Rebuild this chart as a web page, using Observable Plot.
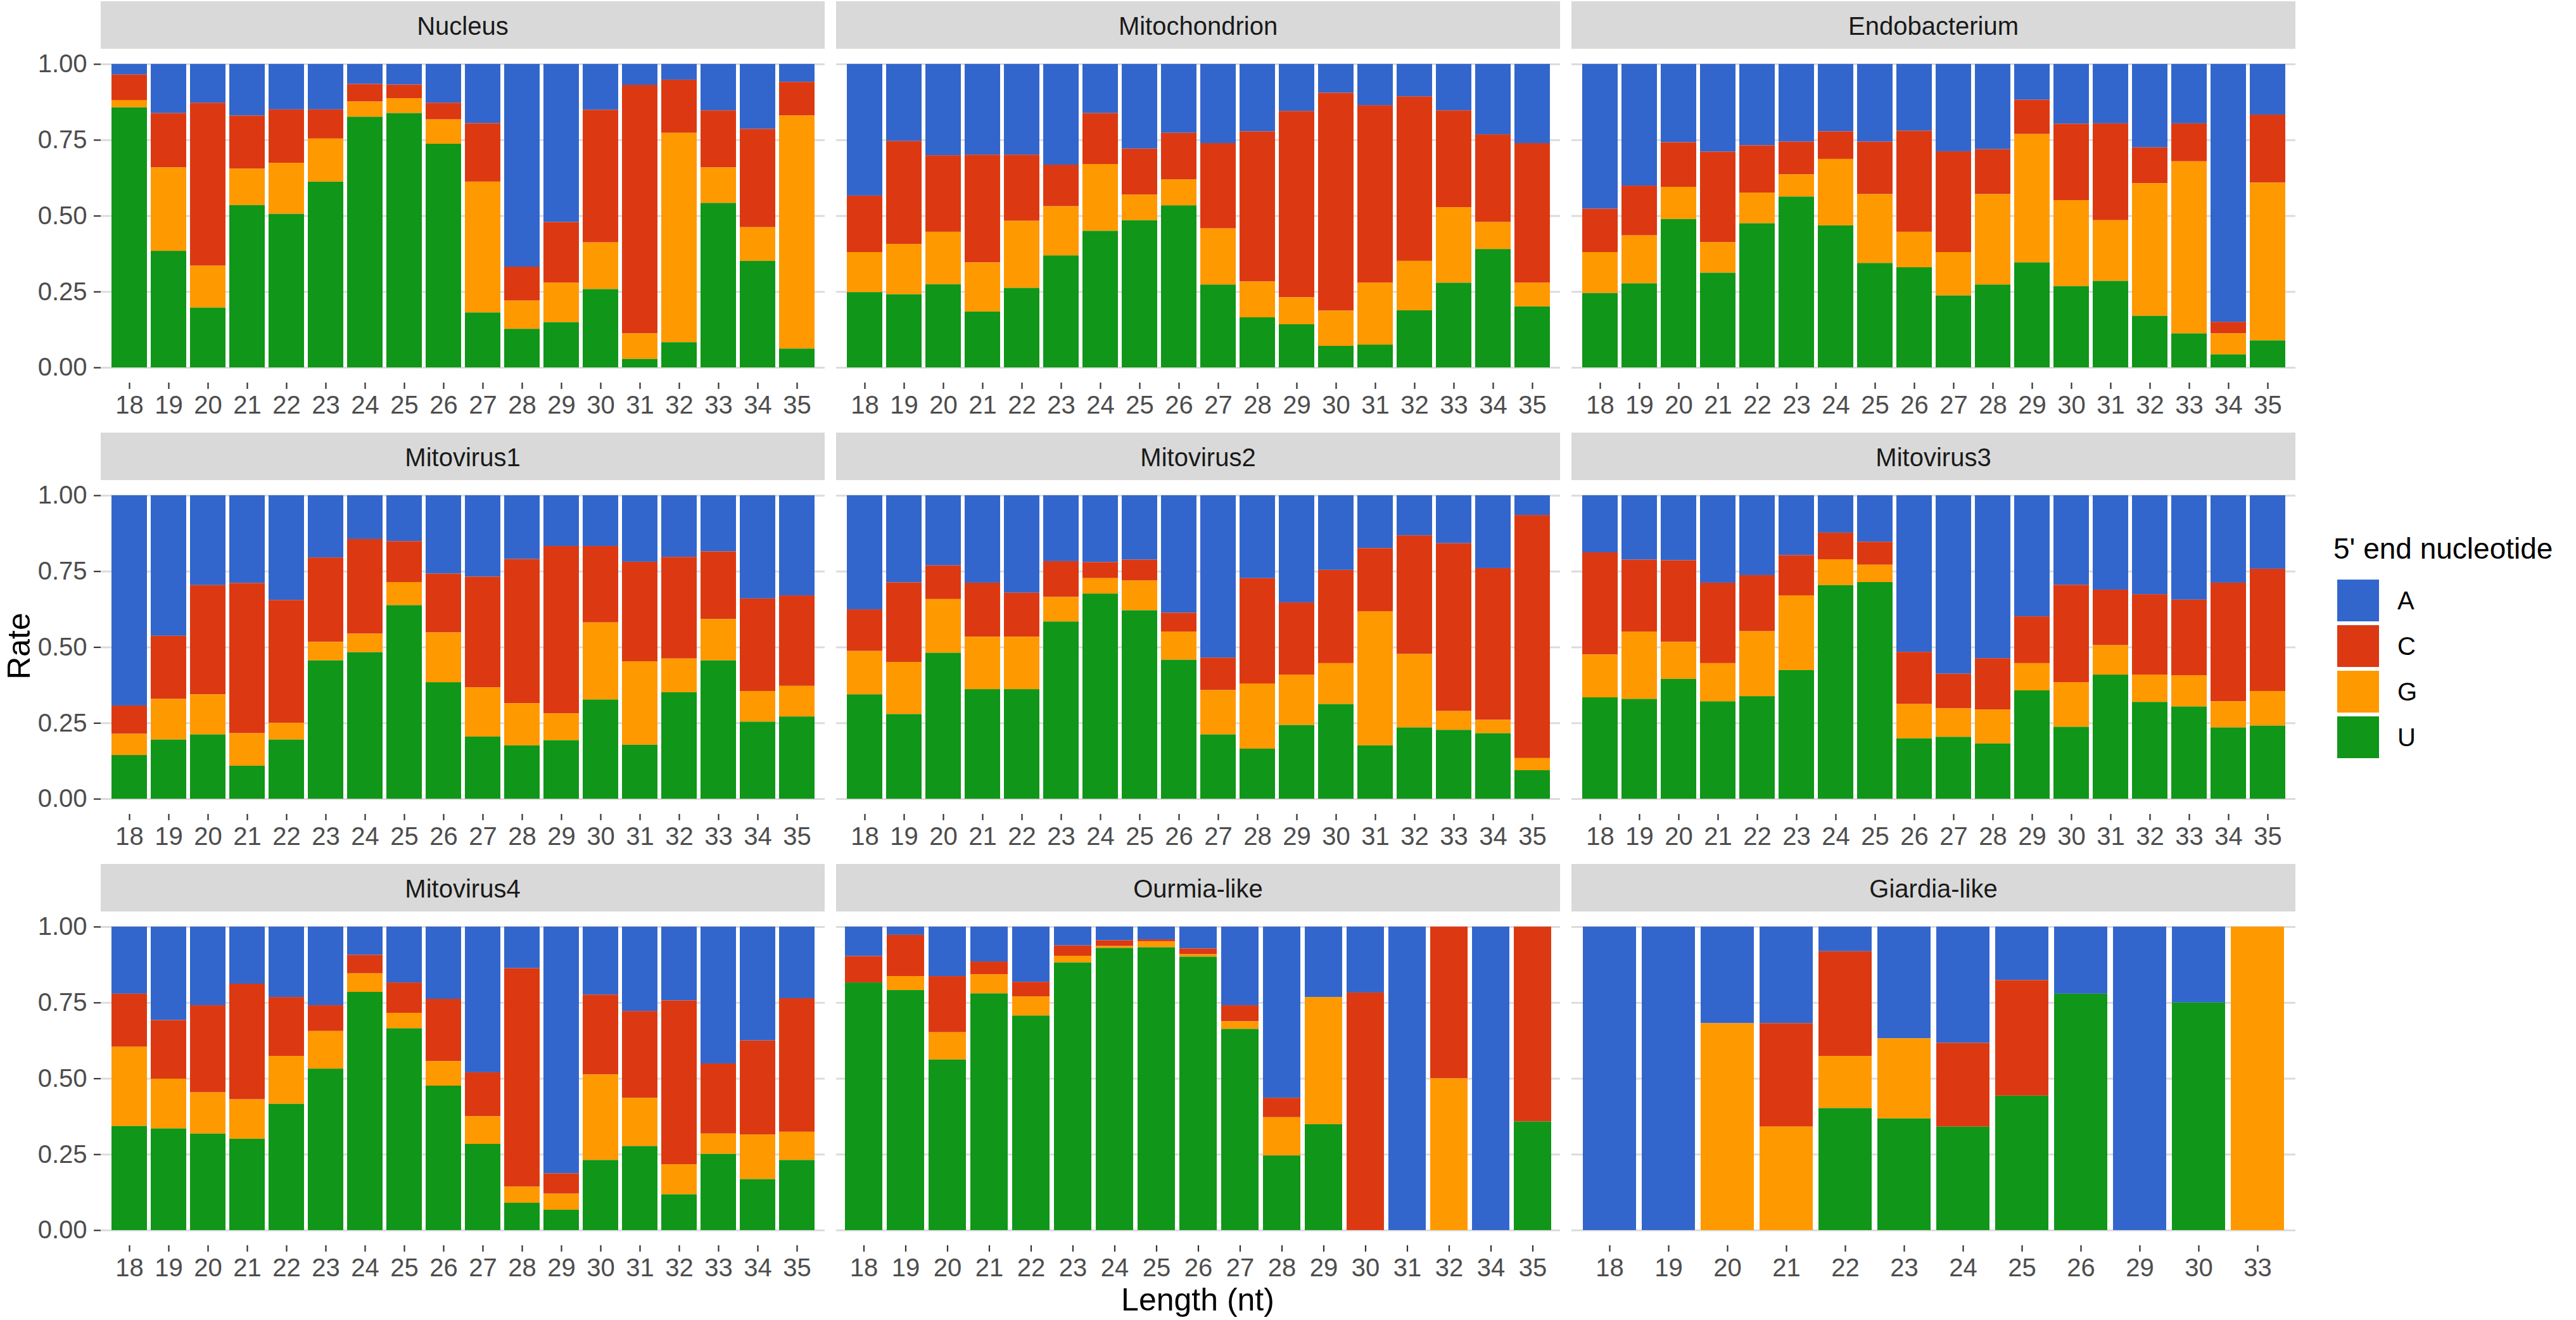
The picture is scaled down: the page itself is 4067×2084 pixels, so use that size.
<!DOCTYPE html>
<html><head><meta charset="utf-8">
<script src="https://cdn.jsdelivr.net/npm/d3@7"></script>
<script src="https://cdn.jsdelivr.net/npm/@observablehq/plot@0.6"></script>
<style>
html,body{margin:0;padding:0;background:#fff;}
#root{position:relative;width:4067px;height:2084px;overflow:hidden;font-family:"Liberation Sans",Arial,sans-serif;background:#fff;}
[aria-label="x-axis tick"], [aria-label="y-axis tick"]{stroke:#333;stroke-width:2.2px;}
[aria-label="x-axis tick label"], [aria-label="y-axis tick label"]{fill:#4d4d4d;}
</style></head><body><div id="root"></div>
<script>
// ---------- data ----------
const facetNames = ["Nucleus","Mitochondrion","Endobacterium","Mitovirus1","Mitovirus2","Mitovirus3","Mitovirus4","Ourmia-like","Giardia-like"];
const lenFull = [18,19,20,21,22,23,24,25,26,27,28,29,30,31,32,33,34,35];
const lenOurmia = [18,19,20,21,22,23,24,25,26,27,28,29,30,31,32,34,35];
const lenGiardia = [18,19,20,21,22,23,24,25,26,29,30,33];
const nucleotides = ["A","C","G","U"];
const nucColors = ["#3366CC","#DC3912","#FF9900","#109618"];
const stackOrder = ["U","G","C","A"];
const yTicks = [0,0.25,0.5,0.75,1];

const nucleus = {
  U:[.857,.384,.197,.535,.506,.612,.826,.838,.737,.181,.127,.149,.258,.028,.083,.542,.351,.062],
  G:[.024,.275,.138,.120,.168,.142,.050,.049,.080,.431,.093,.130,.154,.084,.690,.117,.111,.768],
  C:[.084,.179,.537,.175,.176,.096,.058,.045,.055,.193,.112,.200,.437,.819,.175,.188,.324,.111],
  A:[.035,.162,.128,.170,.150,.150,.066,.068,.128,.195,.668,.521,.151,.069,.052,.153,.214,.059]};
const mitochondrion = {
  U:[.248,.241,.274,.184,.262,.369,.450,.485,.534,.273,.165,.142,.071,.075,.188,.279,.390,.201],
  G:[.132,.166,.173,.162,.221,.162,.220,.084,.085,.185,.118,.089,.116,.204,.163,.249,.089,.078],
  C:[.186,.339,.252,.355,.218,.137,.168,.152,.154,.281,.495,.614,.718,.585,.542,.319,.289,.460],
  A:[.434,.254,.301,.299,.299,.332,.162,.279,.227,.261,.222,.155,.095,.136,.107,.153,.232,.261]};
const endobacterium = {
  U:[.245,.277,.489,.312,.475,.563,.468,.344,.330,.237,.273,.346,.268,.285,.170,.112,.043,.089],
  G:[.135,.158,.106,.101,.101,.073,.219,.227,.117,.143,.298,.423,.283,.200,.437,.567,.069,.520],
  C:[.143,.164,.147,.298,.156,.108,.091,.173,.333,.332,.148,.113,.252,.319,.118,.125,.038,.224],
  A:[.477,.401,.258,.289,.268,.256,.222,.256,.220,.288,.281,.118,.197,.196,.275,.196,.850,.167]};
const mitovirus1 = {
  U:[.144,.195,.212,.109,.195,.456,.483,.638,.384,.205,.176,.193,.327,.178,.351,.456,.254,.271],
  G:[.070,.134,.132,.107,.055,.061,.061,.076,.164,.162,.139,.088,.254,.275,.111,.136,.101,.101],
  C:[.093,.208,.360,.495,.405,.278,.312,.135,.194,.365,.475,.552,.252,.328,.335,.223,.305,.298],
  A:[.693,.463,.296,.289,.345,.205,.144,.151,.258,.268,.210,.167,.167,.219,.203,.185,.340,.330]};
const mitovirus2 = {
  U:[.344,.279,.481,.361,.361,.584,.676,.621,.458,.212,.165,.243,.312,.176,.235,.227,.216,.094],
  G:[.143,.172,.177,.173,.173,.081,.051,.098,.093,.146,.215,.166,.135,.442,.242,.062,.044,.040],
  C:[.137,.262,.111,.178,.145,.118,.053,.069,.062,.107,.347,.238,.307,.208,.391,.553,.500,.801],
  A:[.376,.287,.231,.288,.321,.217,.220,.212,.387,.535,.273,.353,.246,.174,.132,.158,.240,.065]};
const mitovirus3 = {
  U:[.334,.329,.395,.321,.338,.424,.704,.714,.199,.204,.182,.357,.237,.409,.319,.304,.235,.241],
  G:[.141,.222,.122,.126,.214,.246,.085,.057,.113,.094,.112,.090,.147,.097,.090,.103,.086,.114],
  C:[.337,.237,.269,.265,.185,.133,.088,.076,.172,.114,.169,.154,.321,.183,.265,.249,.391,.403],
  A:[.188,.212,.214,.288,.263,.197,.123,.153,.516,.588,.537,.399,.295,.311,.326,.344,.288,.242]};
const mitovirus4 = {
  U:[.343,.335,.318,.301,.416,.532,.785,.665,.476,.284,.090,.067,.231,.277,.118,.251,.168,.231],
  G:[.261,.164,.136,.130,.158,.124,.061,.051,.081,.091,.053,.053,.282,.159,.099,.067,.147,.093],
  C:[.175,.193,.287,.381,.194,.085,.061,.100,.205,.145,.720,.067,.263,.286,.540,.231,.310,.440],
  A:[.221,.308,.259,.188,.232,.259,.093,.184,.238,.480,.137,.813,.224,.278,.243,.451,.375,.236]};
const ourmia = {
  U:[.816,.791,.562,.780,.707,.882,.930,.932,.901,.663,.246,.349,0,0,0,0,.358],
  G:[0,.046,.090,.063,.063,.022,.006,.019,.008,.025,.126,.419,0,0,.5,0,0],
  C:[.087,.136,.185,.042,.048,.034,.019,.007,.019,.053,.064,0,.783,0,.5,0,.642],
  A:[.097,.027,.163,.115,.182,.062,.045,.042,.072,.259,.564,.232,.217,1,0,1,0]};
const giardia = {
  U:[0,0,0,0,.402,.368,.341,.443,.779,0,.750,0],
  G:[0,0,.682,.341,.172,.264,0,0,0,0,0,1],
  C:[0,0,0,.341,.345,0,.276,.381,0,0,0,0],
  A:[1,1,.318,.318,.081,.368,.383,.176,.221,1,.250,0]};

const facetValues = [nucleus, mitochondrion, endobacterium, mitovirus1, mitovirus2, mitovirus3, mitovirus4, ourmia, giardia];
const facetLengths = [lenFull, lenFull, lenFull, lenFull, lenFull, lenFull, lenFull, lenOurmia, lenGiardia];

// ---------- layout ----------
const root = document.getElementById("root");
const colX = [159, 1320, 2481];
const stripTop = [2, 683, 1364];
const stripH = 75;
const panelW = 1143;
const panelH = 527;
const bottomM = 80;
const FONT = '"Liberation Sans", Arial, sans-serif';

facetNames.forEach((name, k) => {
  const col = k % 3, row = Math.floor(k / 3);
  const cats = facetLengths[k];
  const vals = facetValues[k];
  const rows = [];
  cats.forEach((c, i) => nucleotides.forEach(n => rows.push({len: String(c), nuc: n, val: vals[n][i]})));
  const left = col === 0;
  const ml = left ? colX[0] : 0;
  const svg = Plot.plot({
    width: ml + panelW, height: panelH + bottomM,
    marginLeft: ml, marginRight: 0, marginTop: 0, marginBottom: bottomM,
    style: {fontSize: "40px", fontFamily: FONT, background: "transparent", overflow: "visible"},
    x: {type: "band", domain: cats.map(String), paddingInner: 0.1, paddingOuter: 0.15, align: 0.5, label: null},
    y: left ? {domain: [-0.05, 1.05], label: null} : {domain: [-0.05, 1.05], label: null, axis: null},
    color: {domain: nucleotides, range: nucColors},
    marks: [
      Plot.ruleY(yTicks, {stroke: "#dcdcdc", strokeWidth: 3}),
      Plot.barY(rows, Plot.stackY({x: "len", y: "val", fill: "nuc", order: stackOrder})),
      Plot.axisX({tickSize: 10, tickPadding: 10, label: null}),
      left ? Plot.axisY({ticks: yTicks, tickFormat: d3.format(".2f"), tickSize: 11, tickPadding: 11, label: null}) : null
    ]
  });
  svg.style.position = "absolute";
  svg.style.left = (colX[col] - ml) + "px";
  svg.style.top = (stripTop[row] + stripH) + "px";
  root.appendChild(svg);
});

// ---------- strips, titles, legend ----------
const ov = d3.create("svg")
  .attr("width", 4067).attr("height", 2084)
  .style("position", "absolute").style("left", "0px").style("top", "0px")
  .style("pointer-events", "none")
  .attr("font-family", FONT);

facetNames.forEach((name, k) => {
  const col = k % 3, row = Math.floor(k / 3);
  ov.append("rect").attr("x", colX[col]).attr("y", stripTop[row]).attr("width", panelW).attr("height", stripH).attr("fill", "#d9d9d9");
  ov.append("text").attr("x", colX[col] + panelW / 2).attr("y", stripTop[row] + 53)
    .attr("text-anchor", "middle").attr("font-size", 40).attr("fill", "#1a1a1a").text(name);
});

ov.append("text").attr("transform", "translate(47,1020) rotate(-90)").attr("text-anchor", "middle")
  .attr("font-size", 50).attr("fill", "#000").text("Rate");
ov.append("text").attr("x", 1891).attr("y", 2069).attr("text-anchor", "middle")
  .attr("font-size", 50).attr("fill", "#000").text("Length (nt)");

ov.append("text").attr("x", 3684).attr("y", 882).attr("font-size", 46).attr("fill", "#000").text("5' end nucleotide");
nucleotides.forEach((n, i) => {
  const y = 915 + i * 72;
  ov.append("rect").attr("x", 3690).attr("y", y).attr("width", 66).attr("height", 66).attr("fill", nucColors[i]);
  ov.append("text").attr("x", 3785).attr("y", y + 33 + 14).attr("font-size", 40).attr("fill", "#000").text(n);
});

root.appendChild(ov.node());
</script></body></html>
